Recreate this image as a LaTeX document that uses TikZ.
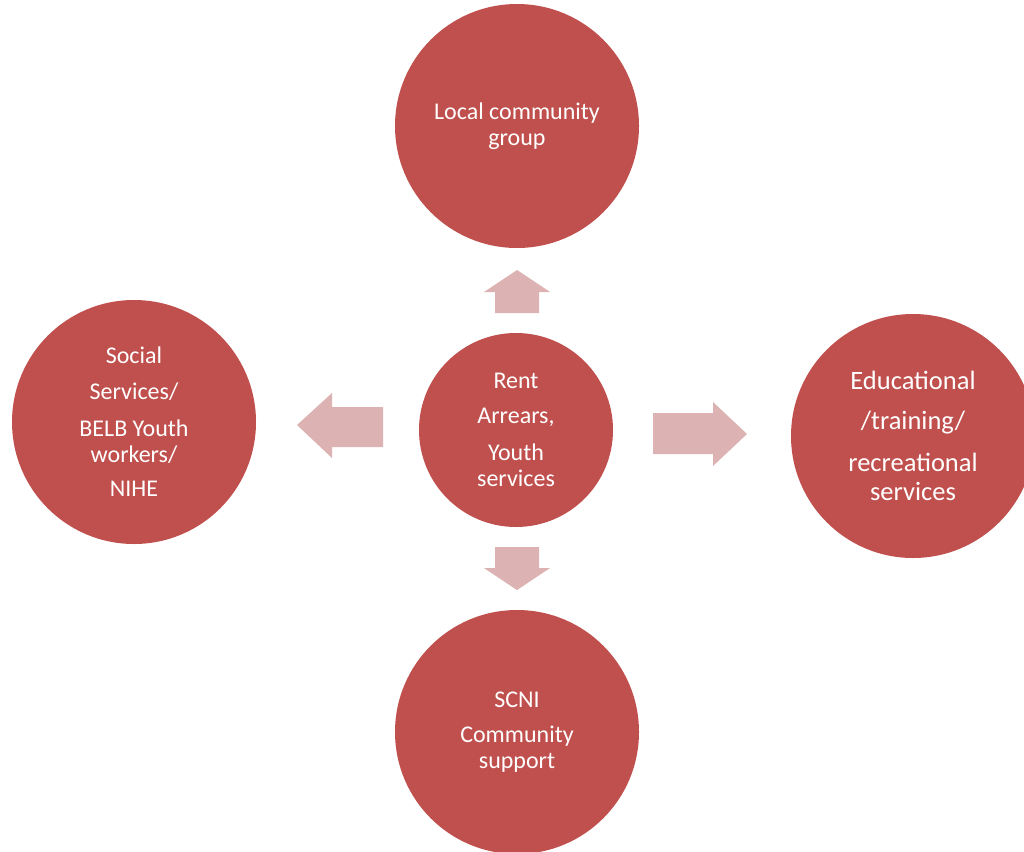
\documentclass[tikz,border=0pt]{standalone}
\usepackage{fontspec}
\setmainfont{Carlito}
\definecolor{circlered}{RGB}{192,80,77}
\definecolor{arrowpink}{RGB}{220,178,178}

\begin{document}
\begin{tikzpicture}[x=1pt, y=-1pt,
    every node/.style = {shape=circle, fill=circlered, text=white,
    align=center, inner sep=0pt, font=\fontsize{24}{26}\selectfont},
    hub/.style={minimum size=194pt},
    partner/.style={minimum size=244pt},
    partner_big/.style={partner, font=\fontsize{26.5}{28.5}\selectfont},
    flow_arrow/.style={fill=arrowpink},
    ]
    \useasboundingbox (0,0) rectangle (1024,851);
    \clip (0,0) rectangle (1024,851);

    \node [hub] (hub) at (516,430) {Rent\\[9pt]Arrears,\\[11pt]Youth\\services};
    \node [partner] (local) at (517,126) {Local community\\group};
    \node [partner] (social) at (134,422)
    	{Social\\[10pt]Services/\\[11pt]BELB Youth\\workers/\\[8pt]NIHE};
    \node [partner_big] (edu) at (913,436)
    	{Educational\\[11.5pt]/training/\\[13.5pt]recreational\\services};
    \node [partner] (scni) at (517,732) {SCNI\\[9pt]Community\\support};

    % block arrows from the hub
    \fill [flow_arrow] (495,313) -- (495,292) -- (484,292) -- (517,270)
    	-- (550,292) -- (539,292) -- (539,313) -- cycle;
    \fill [flow_arrow] (383,407) -- (332,407) -- (332,393) -- (297,425)
    	-- (332,458) -- (332,447) -- (383,447) -- cycle;
    \fill [flow_arrow] (653,413) -- (713,413) -- (713,402) -- (747,434)
    	-- (713,466) -- (713,454) -- (653,454) -- cycle;
    \fill [flow_arrow] (495,547) -- (539,547) -- (539,568) -- (550,568)
    	-- (517,590) -- (484,568) -- (495,568) -- cycle;

\end{tikzpicture}
\end{document}
